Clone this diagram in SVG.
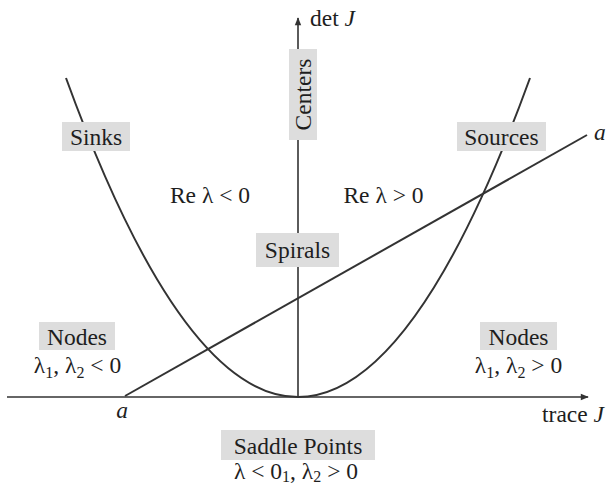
<svg xmlns="http://www.w3.org/2000/svg" width="607" height="487" viewBox="0 0 607 487">
<style>
text{font-family:"Liberation Serif","Times New Roman",serif;font-size:23.5px;fill:#1e1e1e}
.c{text-anchor:middle}
.i{font-style:italic}
.box{fill:#dddddd}
.sub{font-size:16px}
.ax{stroke:#333;stroke-width:1.6;fill:none}
.crv{stroke:#333;stroke-width:2;fill:none}
</style>
<defs>
<marker id="arr" viewBox="0 0 10 10" refX="9" refY="5" markerWidth="10" markerHeight="8" markerUnits="userSpaceOnUse" orient="auto">
<path d="M0,1 L10,5 L0,9 Z" fill="#333"/>
</marker>
</defs>
<rect width="607" height="487" fill="#fff"/>
<g id="connectors">
<line class="ax" x1="7" y1="397" x2="588" y2="397" marker-end="url(#arr)"/>
<line class="ax" x1="298" y1="397" x2="298" y2="18" stroke-width="1.3" marker-end="url(#arr)"/>
<path id="parabola" class="crv" d="M66,78 Q298,716 530,78"/>
<line id="line-a" class="crv" x1="125" y1="396" x2="587" y2="135"/>
</g>
<g id="sinks"><rect class="box" x="62" y="122" width="68" height="29"/><text class="c" x="96" y="145">Sinks</text></g>
<g id="sources"><rect class="box" x="457" y="122" width="89" height="29"/><text class="c" x="501.5" y="145">Sources</text></g>
<g id="centers"><rect class="box" x="289" y="49" width="28" height="91"/><text class="c" transform="translate(311,94.5) rotate(-90)">Centers</text></g>
<g id="spirals"><rect class="box" x="256" y="233" width="83" height="34"/><text class="c" x="297.5" y="258">Spirals</text></g>
<g id="re-neg"><text class="c" x="210" y="203">Re λ &lt; 0</text></g>
<g id="re-pos"><text class="c" x="383.5" y="203">Re λ &gt; 0</text></g>
<g id="nodes-left"><rect class="box" x="39" y="322" width="76" height="28"/><text class="c" x="77" y="345">Nodes</text>
<text class="c" x="77.5" y="373">λ<tspan class="sub" dy="5">1</tspan><tspan dy="-5">, λ</tspan><tspan class="sub" dy="5">2</tspan><tspan dy="-5"> &lt; 0</tspan></text></g>
<g id="nodes-right"><rect class="box" x="480" y="322" width="77" height="28"/><text class="c" x="518.5" y="345">Nodes</text>
<text class="c" x="518.5" y="373">λ<tspan class="sub" dy="5">1</tspan><tspan dy="-5">, λ</tspan><tspan class="sub" dy="5">2</tspan><tspan dy="-5"> &gt; 0</tspan></text></g>
<g id="saddle"><rect class="box" x="221" y="430" width="154" height="30"/><text class="c" x="298" y="454">Saddle Points</text>
<text class="c" x="296" y="479">λ &lt; 0<tspan class="sub" dy="3">1</tspan><tspan dy="-3">, λ</tspan><tspan class="sub" dy="3">2</tspan><tspan dy="-3"> &gt; 0</tspan></text></g>
<g id="axis-labels">
<text x="310" y="26">det <tspan class="i">J</tspan></text>
<text x="604" y="422" text-anchor="end">trace <tspan class="i">J</tspan></text>
<text class="c i" x="122" y="418">a</text>
<text class="i" x="594" y="140">a</text>
</g>
</svg>
